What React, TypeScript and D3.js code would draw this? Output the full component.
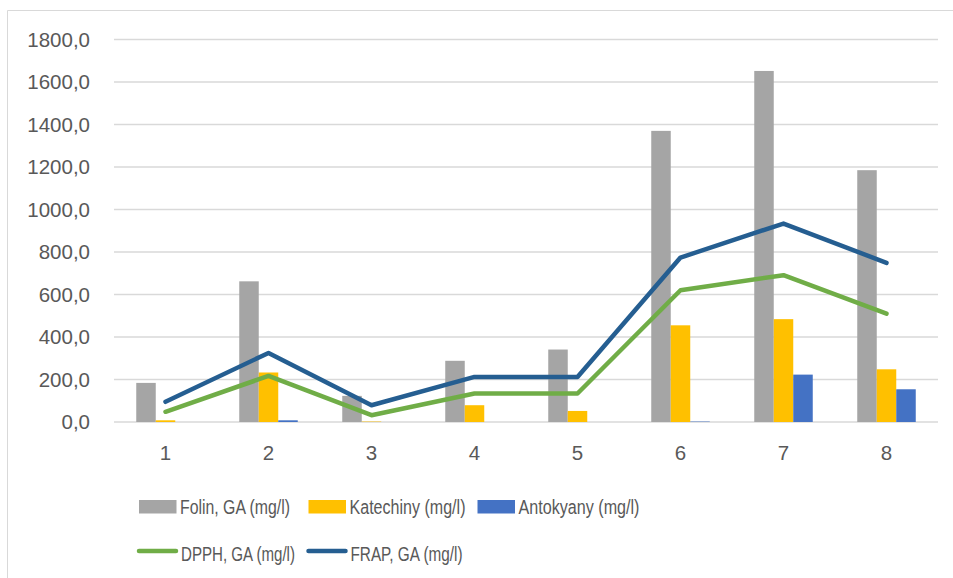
import React from "react";
import * as d3 from "d3";

// Samples 1–8
const categories = ["1", "2", "3", "4", "5", "6", "7", "8"];

// Bar series (mg/l)
const folin = [184, 662, 123, 288, 341, 1370, 1652, 1185];
const katechiny = [8, 233, 2, 79, 52, 455, 484, 248];
const antokyany = [0, 8, 0, 0, 0, 2, 223, 154];

// Line series (mg/l)
const dpph = [48, 217, 32, 134, 134, 620, 691, 510];
const frap = [95, 325, 79, 212, 212, 774, 934, 749];

const yTicks = [0, 200, 400, 600, 800, 1000, 1200, 1400, 1600, 1800];

const barSeries = [
  { name: "Folin, GA (mg/l)", values: folin, color: "#A5A5A5" },
  { name: "Katechiny (mg/l)", values: katechiny, color: "#FFC000" },
  { name: "Antokyany (mg/l)", values: antokyany, color: "#4472C4" },
];

const lineSeries = [
  { name: "DPPH, GA (mg/l)", values: dpph, color: "#70AD47" },
  { name: "FRAP, GA (mg/l)", values: frap, color: "#255E91" },
];

const W = 953;
const H = 578;
const plot = { left: 114, right: 938, top: 39.5, bottom: 422 };

const font = "'Liberation Sans', Arial, sans-serif";
const textColor = "#595959";

// legend layout: swatch x, label width (condensed to fit)
const barLegend = [
  { x: 139, w: 110 },
  { x: 308.5, w: 116 },
  { x: 477.5, w: 121 },
];
const lineLegend = [
  { x: 139, w: 114 },
  { x: 308.5, w: 112 },
];

export default function App() {
  const x = d3
    .scaleBand<string>()
    .domain(categories)
    .range([plot.left, plot.right]);
  const y = d3.scaleLinear().domain([0, 1800]).range([plot.bottom, plot.top]);

  const barW = 19.5;
  const groupW = barW * barSeries.length;

  const line = d3
    .line<number>()
    .x((_, i) => (x(categories[i]) as number) + x.bandwidth() / 2)
    .y((d) => y(d));

  const fmt = (v: number) => v.toFixed(1).replace(".", ",");

  return (
    <svg
      width={W}
      height={H}
      style={{ position: "absolute", left: 0, top: 0, background: "#fff" }}
    >
      {/* chart frame */}
      <line x1={7.5} y1={10.5} x2={W} y2={10.5} stroke="#D9D9D9" strokeWidth={1} />
      <line x1={7.5} y1={10.5} x2={7.5} y2={H} stroke="#D9D9D9" strokeWidth={1} />

      {/* gridlines */}
      {yTicks.map((t) => (
        <line
          key={t}
          x1={plot.left}
          x2={plot.right}
          y1={y(t)}
          y2={y(t)}
          stroke="#D9D9D9"
          strokeWidth={1.3}
        />
      ))}

      {/* y tick labels */}
      {yTicks.map((t) => (
        <text
          key={"l" + t}
          x={90}
          y={y(t)}
          dy="0.36em"
          textAnchor="end"
          fontFamily={font}
          fontSize={20.5}
          fill={textColor}
        >
          {fmt(t)}
        </text>
      ))}

      {/* bars */}
      {categories.map((c, i) => {
        const cx = (x(c) as number) + x.bandwidth() / 2;
        return barSeries.map((s, j) => {
          const v = s.values[i];
          const bx = cx - groupW / 2 + j * barW;
          return (
            <rect
              key={c + s.name}
              x={bx}
              y={y(v)}
              width={barW}
              height={y(0) - y(v)}
              fill={s.color}
            />
          );
        });
      })}

      {/* lines */}
      {lineSeries.map((s) => (
        <path
          key={s.name}
          d={line(s.values) as string}
          fill="none"
          stroke={s.color}
          strokeWidth={4.5}
          strokeLinecap="round"
          strokeLinejoin="round"
        />
      ))}

      {/* x labels */}
      {categories.map((c) => (
        <text
          key={"x" + c}
          x={(x(c) as number) + x.bandwidth() / 2}
          y={460}
          textAnchor="middle"
          fontFamily={font}
          fontSize={20.5}
          fill={textColor}
        >
          {c}
        </text>
      ))}

      {/* legend row 1: bars */}
      {barSeries.map((s, j) => {
        const { x: lx, w } = barLegend[j];
        return (
          <g key={"lg" + s.name}>
            <rect x={lx} y={500} width={37.5} height={13.5} fill={s.color} />
            <text
              x={lx + 41}
              y={514}
              fontFamily={font}
              fontSize={19.5}
              fill={textColor}
              textLength={w}
              lengthAdjust="spacingAndGlyphs"
            >
              {s.name}
            </text>
          </g>
        );
      })}

      {/* legend row 2: lines */}
      {lineSeries.map((s, j) => {
        const { x: lx, w } = lineLegend[j];
        return (
          <g key={"ll" + s.name}>
            <line
              x1={lx}
              x2={lx + 37}
              y1={551}
              y2={551}
              stroke={s.color}
              strokeWidth={4.5}
              strokeLinecap="round"
            />
            <text
              x={lx + 42}
              y={560.5}
              fontFamily={font}
              fontSize={19.5}
              fill={textColor}
              textLength={w}
              lengthAdjust="spacingAndGlyphs"
            >
              {s.name}
            </text>
          </g>
        );
      })}
    </svg>
  );
}
